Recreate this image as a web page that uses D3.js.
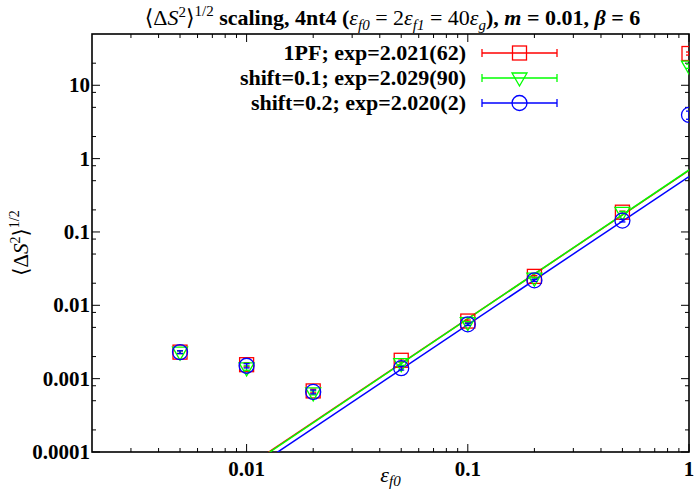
<!DOCTYPE html>
<html>
<head>
<meta charset="utf-8">
<script src="https://cdn.jsdelivr.net/npm/d3@7"></script>
<style>
  body { margin: 0; background: #fff; }
  text { font-family: "Liberation Serif", "DejaVu Serif", serif; }
</style>
</head>
<body>
<svg id="svg"></svg>
<script>
// data
let epsF0 = [0.005, 0.01, 0.02, 0.05, 0.1, 0.2, 0.5, 1];

let pf1Vals   = [0.0023, 0.00155, 0.00068, 0.00178, 0.0061, 0.0248, 0.186, 27.1];
let pf1Errs   = [0.0001, 0.0001, 0.00004, 0.00008, 0.0002, 0.0007, 0.006, 1.3];
let shift1Vals = [0.0023, 0.0014, 0.00064, 0.0016, 0.0058, 0.0235, 0.185, 18.2];
let shift1Errs = [0.0001, 0.0001, 0.00004, 0.00008, 0.0002, 0.0007, 0.006, 1.2];
let shift2Vals = [0.0023, 0.0015, 0.00066, 0.00139, 0.0055, 0.0219, 0.143, 3.94];
let shift2Errs = [0.0001, 0.0001, 0.00004, 0.00008, 0.0002, 0.0007, 0.006, 0.5];

let seriesNames = ["1PF; exp=2.021(62)", "shift=0.1; exp=2.029(90)", "shift=0.2; exp=2.020(2)"];
let seriesColors = ["#ff0000", "#00ff00", "#0000ff"];
let seriesMarkers = ["square", "triangle", "circle"];
// fit lines y = amp * x^exp
let fitAmps = [0.69, 0.70, 0.57];
let fitExps = [2.021, 2.029, 2.020];

let xTickVals = [0.01, 0.1, 1];
let xTickLabels = ["0.01", "0.1", "1"];
let yTickVals = [0.0001, 0.001, 0.01, 0.1, 1, 10];
let yTickLabels = ["0.0001", "0.001", "0.01", "0.1", "1", "10"];

let series = [
  { vals: pf1Vals, errs: pf1Errs },
  { vals: shift1Vals, errs: shift1Errs },
  { vals: shift2Vals, errs: shift2Errs }
];

////////////////////////////////////////////////////////////////////////
// layout

let W = 699, H = 491;
let margin = { left: 92, right: 10, top: 34, bottom: 39 };
let plotW = W - margin.left - margin.right;
let plotH = H - margin.top - margin.bottom;

let svg = d3.select("#svg").attr("width", W).attr("height", H);
svg.append("rect").attr("width", W).attr("height", H).attr("fill", "white");

let xScale = d3.scaleLog().domain([0.002, 1]).range([margin.left, margin.left + plotW]);
let yScale = d3.scaleLog().domain([0.0001, 50]).range([margin.top + plotH, margin.top]);

let x0 = margin.left, x1 = margin.left + plotW;
let y0 = margin.top + plotH, y1 = margin.top;

svg.append("clipPath").attr("id", "clip")
   .append("rect").attr("x", x0).attr("y", y1).attr("width", plotW).attr("height", plotH);

////////////////////////////////////////////////////////////////////////
// ticks (inward, mirrored on all four sides)

let xMinor = [];
[0.001, 0.01, 0.1].forEach(function(d) {
  for (let k = 2; k <= 9; ++k) {
    let v = d * k;
    if (v > 0.002 && v < 1) xMinor.push(v);
  }
});
let yMinor = [];
[0.0001, 0.001, 0.01, 0.1, 1, 10].forEach(function(d) {
  [2, 5, 8].forEach(function(k) {
    let v = d * k;
    if (v < 50) yMinor.push(v);
  });
});

let ticks = svg.append("g").attr("stroke", "black").attr("stroke-width", 1);
function xTick(v, len) {
  let px = xScale(v);
  ticks.append("line").attr("x1", px).attr("x2", px).attr("y1", y0).attr("y2", y0 - len);
  ticks.append("line").attr("x1", px).attr("x2", px).attr("y1", y1).attr("y2", y1 + len);
}
function yTick(v, len) {
  let py = yScale(v);
  ticks.append("line").attr("x1", x0).attr("x2", x0 + len).attr("y1", py).attr("y2", py);
  ticks.append("line").attr("x1", x1).attr("x2", x1 - len).attr("y1", py).attr("y2", py);
}
xMinor.forEach(function(v) { xTick(v, 4); });
xTickVals.forEach(function(v) { xTick(v, 8); });
yMinor.forEach(function(v) { yTick(v, 4); });
yTickVals.forEach(function(v) { yTick(v, 8); });

svg.append("rect")
   .attr("x", x0).attr("y", y1).attr("width", plotW).attr("height", plotH)
   .attr("fill", "none").attr("stroke", "black").attr("stroke-width", 1.6);

// tick labels
svg.selectAll(".xlab").data(xTickVals).enter().append("text")
   .attr("x", function(d) { return xScale(d); })
   .attr("y", y0 + 24)
   .attr("text-anchor", "middle")
   .attr("font-size", 21).attr("font-weight", "bold")
   .text(function(d, i) { return xTickLabels[i]; });

svg.selectAll(".ylab").data(yTickVals).enter().append("text")
   .attr("x", x0 - 2)
   .attr("y", function(d) { return yScale(d) + 7; })
   .attr("text-anchor", "end")
   .attr("font-size", 21).attr("font-weight", "bold")
   .text(function(d, i) { return yTickLabels[i]; });

////////////////////////////////////////////////////////////////////////
// fit lines

let plot = svg.append("g").attr("clip-path", "url(#clip)");
let lineGen = d3.line()
  .x(function(d) { return xScale(d[0]); })
  .y(function(d) { return yScale(d[1]); });

for (let s = 0; s < 3; ++s) {
  let xs = [0.002, 1];
  let pts = xs.map(function(x) { return [x, fitAmps[s] * Math.pow(x, fitExps[s])]; });
  plot.append("path").attr("d", lineGen(pts))
      .attr("fill", "none").attr("stroke", seriesColors[s]).attr("stroke-width", 1.5);
}

////////////////////////////////////////////////////////////////////////
// markers

function drawMarker(g, type, cx, cy, color) {
  if (type == "square") {
    g.append("rect").attr("x", cx - 7).attr("y", cy - 7).attr("width", 14).attr("height", 14)
     .attr("fill", "none").attr("stroke", color).attr("stroke-width", 1.3);
  } else if (type == "triangle") {
    g.append("path").attr("d", "M" + (cx - 7.5) + "," + (cy - 5) + "L" + (cx + 7.5) + "," + (cy - 5) +
                                "L" + cx + "," + (cy + 8) + "Z")
     .attr("fill", "none").attr("stroke", color).attr("stroke-width", 1.3);
  } else {
    g.append("circle").attr("cx", cx).attr("cy", cy).attr("r", 7.5)
     .attr("fill", "none").attr("stroke", color).attr("stroke-width", 1.3);
  }
}

for (let s = 0; s < 3; ++s) {
  let g = plot.append("g");
  for (let i = 0; i < epsF0.length; ++i) {
    let cx = xScale(epsF0[i]);
    let v = series[s].vals[i], e = series[s].errs[i];
    let ya = yScale(v - e), yb = yScale(v + e);
    g.append("line").attr("x1", cx).attr("x2", cx).attr("y1", ya).attr("y2", yb)
     .attr("stroke", seriesColors[s]).attr("stroke-width", 1.3);
    [ya, yb].forEach(function(yy) {
      g.append("line").attr("x1", cx - 3).attr("x2", cx + 3).attr("y1", yy).attr("y2", yy)
       .attr("stroke", seriesColors[s]).attr("stroke-width", 1.3);
    });
    drawMarker(g, seriesMarkers[s], cx, yScale(v), seriesColors[s]);
  }
}

////////////////////////////////////////////////////////////////////////
// legend

let legX = 466, legY0 = 53, legDy = 25;
for (let s = 0; s < 3; ++s) {
  let ly = legY0 + s * legDy;
  svg.append("text").attr("x", legX).attr("y", ly + 7)
     .attr("text-anchor", "end").attr("font-size", 22).attr("font-weight", "bold")
     .text(seriesNames[s]);
  let lg = svg.append("g");
  lg.append("line").attr("x1", 482).attr("x2", 557).attr("y1", ly).attr("y2", ly)
    .attr("stroke", seriesColors[s]).attr("stroke-width", 1.3);
  [482, 557].forEach(function(xx) {
    lg.append("line").attr("x1", xx).attr("x2", xx).attr("y1", ly - 4).attr("y2", ly + 4)
      .attr("stroke", seriesColors[s]).attr("stroke-width", 1.3);
  });
  drawMarker(lg, seriesMarkers[s], 519.5, ly, seriesColors[s]);
}

////////////////////////////////////////////////////////////////////////
// title and axis labels

let title = svg.append("text").attr("x", (x0 + x1) / 2 + 2).attr("y", 25)
   .attr("text-anchor", "middle").attr("font-size", 22);
function tsp(sel, txt, opts) {
  let t = sel.append("tspan").text(txt);
  opts = opts || {};
  if (opts.b) t.attr("font-weight", "bold");
  if (opts.i) t.attr("font-style", "italic");
  if (opts.dy) t.attr("dy", opts.dy);
  if (opts.fs) t.attr("font-size", opts.fs);
  return t;
}
tsp(title, "\u27E8\u0394");
tsp(title, "S", { i: true });
tsp(title, "2", { dy: -8, fs: 15 });
tsp(title, "\u27E9", { dy: 8 });
tsp(title, "1/2", { dy: -9, fs: 15 });
tsp(title, " scaling, 4nt4 (", { b: true, dy: 9 });
tsp(title, "\u03B5", { i: true });
tsp(title, "f0", { i: true, dy: 5, fs: 15 });
tsp(title, " = 2", { dy: -5 });
tsp(title, "\u03B5", { i: true });
tsp(title, "f1", { i: true, dy: 5, fs: 15 });
tsp(title, " = 40", { dy: -5 });
tsp(title, "\u03B5", { i: true });
tsp(title, "g", { i: true, dy: 5, fs: 15 });
tsp(title, "), ", { b: true, dy: -5 });
tsp(title, "m", { b: true, i: true });
tsp(title, " = 0.01, ", { b: true });
tsp(title, "\u03B2", { b: true, i: true });
tsp(title, " = 6", { b: true });

let yl = svg.append("text")
   .attr("transform", "translate(28," + ((y0 + y1) / 2) + ") rotate(-90)")
   .attr("text-anchor", "middle").attr("font-size", 21);
tsp(yl, "\u27E8\u0394");
tsp(yl, "S", { i: true });
tsp(yl, "2", { dy: -8, fs: 14 });
tsp(yl, "\u27E9", { dy: 8 });
tsp(yl, "1/2", { dy: -9, fs: 14 });

let xl = svg.append("text").attr("x", (x0 + x1) / 2).attr("y", H - 9)
   .attr("text-anchor", "middle").attr("font-size", 22);
tsp(xl, "\u03B5", { i: true });
tsp(xl, "f0", { i: true, dy: 4, fs: 15 });
</script>
</body>
</html>
